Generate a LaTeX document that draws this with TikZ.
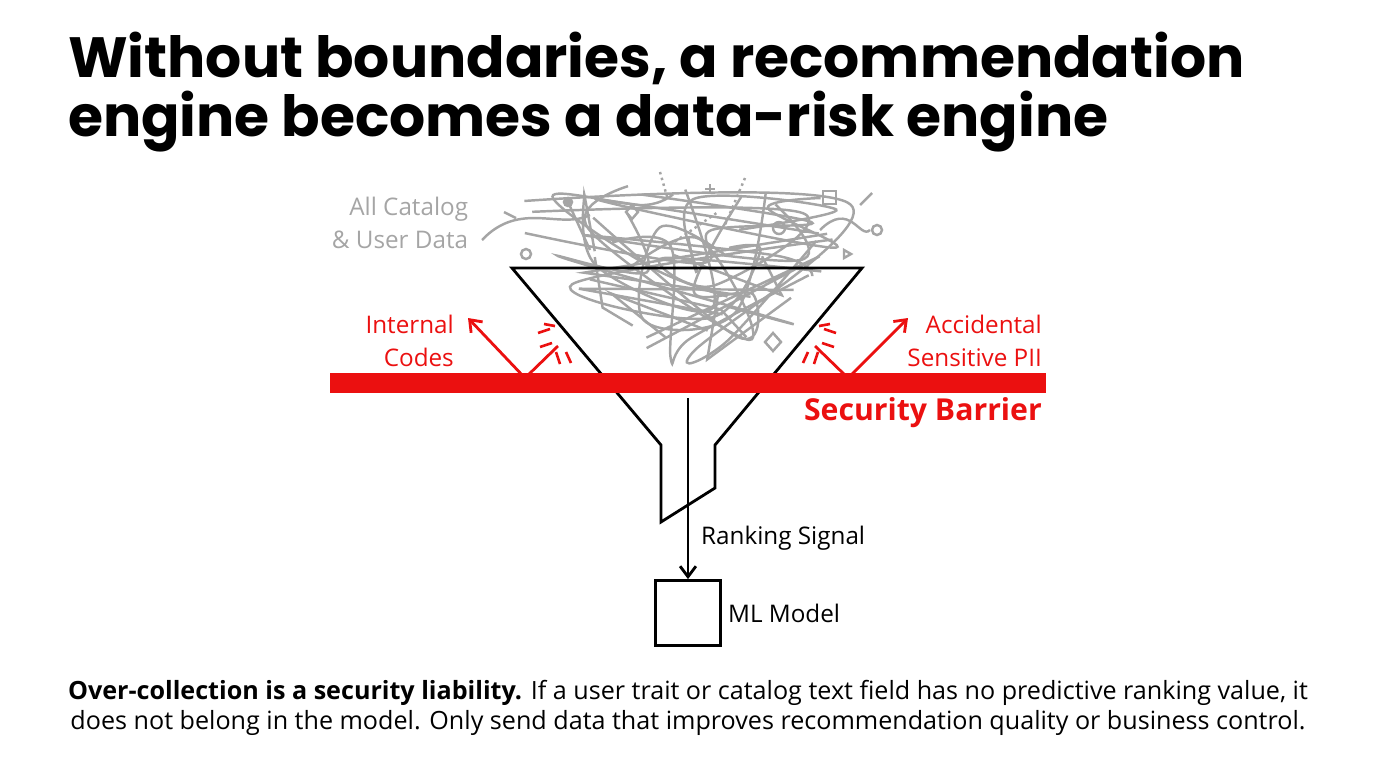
\documentclass[tikz,border=0pt]{standalone}
\usepackage{fontspec}
\setmainfont{Open Sans}
\newfontfamily\titlefont{Poppins}
\usetikzlibrary{arrows.meta, positioning}
\definecolor{barrier}{RGB}{235,16,16}
\definecolor{tangle}{RGB}{165,165,165}
\tikzset{
    heading/.style={anchor=west, align=left, font=\titlefont\bfseries\fontsize{32.3}{37}\selectfont},
    label/.style={align=right, font=\fontsize{13.8}{19}\selectfont},
    leak/.style={-{Straight Barb[length=6pt, width=9pt]}, barrier, line width=1.6pt},
    spark/.style={barrier, line width=1.5pt},
    strand/.style={tangle, line width=1.4pt},
    funnel/.style={black, line width=1.6pt, line join=miter}
}
\begin{document}
\begin{tikzpicture}[x=0.02cm, y=-0.02cm]
    \useasboundingbox (0,0) rectangle (1376,768);

    % Title
    \node[heading] (title) at (62,92) {Without boundaries, a recommendation\\[-3pt]engine becomes a data-risk engine};

    % Tangled data
    \pgfmathsetseed{41}
    \foreach \i in {1,...,14} {
        \pgfmathsetmacro{\ya}{185+rnd*60}
        \pgfmathsetmacro{\xa}{690+(rnd-0.5)*2*(190-(\ya-185)*0.5)}
        \pgfmathsetmacro{\yb}{200+rnd*165}
        \pgfmathsetmacro{\xb}{690+(rnd-0.5)*2*(185-(\yb-185)*0.6)}
        \pgfmathsetmacro{\yc}{190+rnd*175}
        \pgfmathsetmacro{\xc}{690+(rnd-0.5)*2*(185-(\yc-185)*0.6)}
        \pgfmathsetmacro{\yd}{190+rnd*160}
        \pgfmathsetmacro{\xd}{690+(rnd-0.5)*2*(185-(\yd-185)*0.6)}
        \pgfmathsetmacro{\ye}{190+rnd*120}
        \pgfmathsetmacro{\xe}{690+(rnd-0.5)*2*(185-(\ye-185)*0.6)}
        \draw[strand] plot[smooth, tension=0.6] coordinates {(\xa,\ya) (\xb,\yb) (\xc,\yc) (\xd,\yd) (\xe,\ye)};
    }
    \foreach \i in {1,...,8} {
        \pgfmathsetmacro{\ya}{230+rnd*140}
        \pgfmathsetmacro{\xa}{690+(rnd-0.5)*2*(165-(\ya-230)*0.75)}
        \pgfmathsetmacro{\yb}{230+rnd*140}
        \pgfmathsetmacro{\xb}{690+(rnd-0.5)*2*(165-(\yb-230)*0.75)}
        \pgfmathsetmacro{\yc}{230+rnd*140}
        \pgfmathsetmacro{\xc}{690+(rnd-0.5)*2*(165-(\yc-230)*0.75)}
        \draw[strand] (\xa,\ya) -- (\xb,\yb) -- (\xc,\yc);
    }
    \draw[strand] (482,240) .. controls (520,200) and (560,230) .. (590,215);
    \draw[strand] (820,230) .. controls (850,200) and (860,240) .. (870,230);
    \draw[strand] (526,254) circle (5);
    \draw[strand] (779,228) circle (6);
    \draw[strand] (877,230) circle (5);
    \draw[strand, fill=tangle] (568,202) circle (4);
    \draw[strand] (568,202) -- (590,250);
    \draw[strand] (823,191) rectangle (836,204);
    \draw[strand] (632,205) -- (638,212) -- (632,219) -- (626,212) -- cycle;
    \draw[strand] (773,333) -- (781,342) -- (773,351) -- (765,342) -- cycle;
    \draw[strand] (705,189) -- (715,189) (710,184) -- (710,194);
    \draw[strand] (800,232) -- (808,232);
    \draw[strand] (860,205) -- (872,193);
    \draw[strand] (504,212) -- (516,218);
    \draw[strand] (844,250) -- (844,258) -- (851,254) -- cycle;
    \draw[strand, dotted] (660,172) -- (668,200);
    \draw[strand, dotted] (745,178) -- (725,225);
    \draw[strand, dotted] (670,245) -- (718,212);

    \node[label, tangle] (source) at (400,223) {All Catalog\\\& User Data};

    % Funnel
    \draw[funnel] (512,268) -- (862,268) -- (715,445) -- (715,488) -- (661,522) -- (661,445) -- cycle;

    % Security barrier
    \coordinate (barL) at (330,383);
    \coordinate (barR) at (1046,383);
    \draw[barrier, line width=11pt] (barL) -- (barR);
    \node[anchor=east, barrier, font=\bfseries\fontsize{17.2}{20}\selectfont] (barname) at (1048,413) {Security Barrier};

    % Rejected leaks
    \coordinate (hitL) at (525,378);
    \coordinate (hitR) at (848,378);
    \coordinate (inL) at (558,346);
    \coordinate (inR) at (815,346);
    \coordinate (outL) at (468,318);
    \coordinate (outR) at (908,318);
    \draw[barrier, line width=1.6pt] (inL) -- (hitL);
    \draw[leak] (hitL) -- (outL);
    \draw[barrier, line width=1.6pt] (inR) -- (hitR);
    \draw[leak] (hitR) -- (outR);
    \draw[spark] (538,333) -- (550,329) (540,347) -- (552,343) (556,352) -- (560,364) (566,352) -- (571,363) (544,324) -- (555,326);
    \draw[spark] (836,333) -- (824,329) (834,347) -- (822,343) (818,352) -- (814,364) (808,352) -- (803,363) (830,324) -- (819,326);
    \node[label, barrier, anchor=east] (codes) at (460,341) {Internal\\Codes};
    \node[label, barrier, anchor=east] (pii) at (1048,341) {Accidental\\Sensitive PII};

    % Output
    \node[draw, line width=1.6pt, minimum size=1.3cm, inner sep=0pt] (model) at (688,613) {};
    \coordinate (spout) at (688,398);
    \draw[-{Straight Barb[length=6pt, width=9pt]}, line width=1.6pt] (spout) -- (model.north);
    \node[anchor=west, font=\fontsize{13.8}{15}\selectfont] (signal) at (695,538) {Ranking Signal};
    \node[anchor=west, font=\fontsize{13.8}{15}\selectfont] (mlname) at (model.east) {ML Model};

    % Takeaway
    \node[align=center, font=\fontsize{14.3}{17.5}\selectfont] (note) at (688,708) {\textbf{Over-collection is a security liability.} If a user trait or catalog text field has no predictive ranking value, it\\does not belong in the model. Only send data that improves recommendation quality or business control.};
\end{tikzpicture}
\end{document}
